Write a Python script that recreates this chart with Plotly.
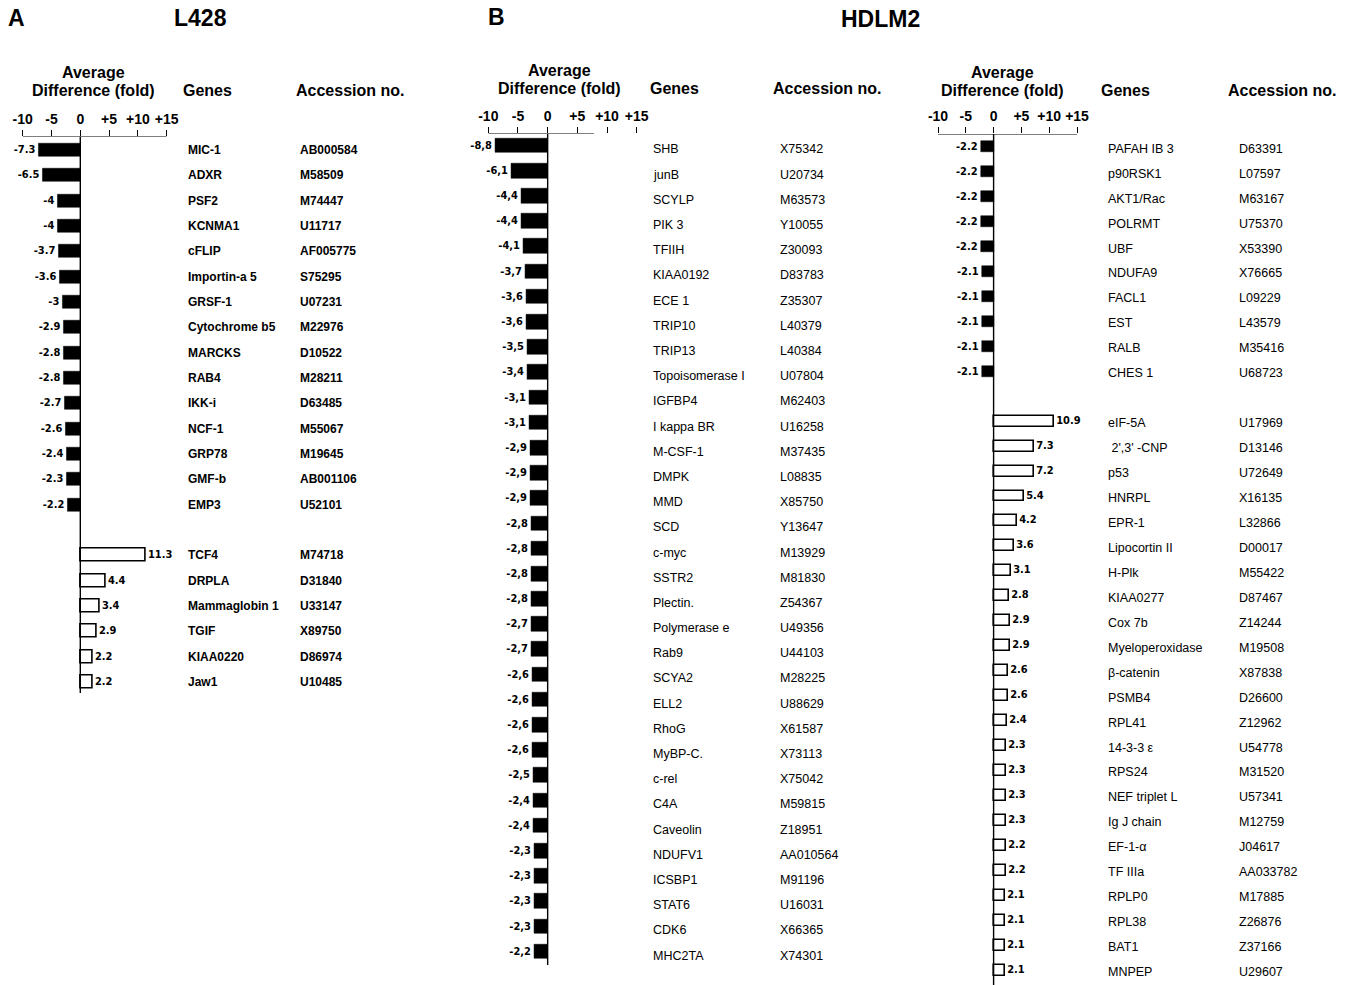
import plotly.graph_objects as go

W, H = 1346, 985

# ---------------- data ----------------
TICK_VALS = [-10, -5, 0, 5, 10, 15]
TICK_TEXT = ["-10", "-5", "0", "+5", "+10", "+15"]

# Panel A : L428
A_neg_genes = ["MIC-1", "ADXR", "PSF2", "KCNMA1", "cFLIP", "Importin-a 5", "GRSF-1",
               "Cytochrome b5", "MARCKS", "RAB4", "IKK-i", "NCF-1", "GRP78", "GMF-b", "EMP3"]
A_neg_acc = ["AB000584", "M58509", "M74447", "U11717", "AF005775", "S75295", "U07231",
             "M22976", "D10522", "M28211", "D63485", "M55067", "M19645", "AB001106", "U52101"]
A_neg_vals = [-7.3, -6.5, -4, -4, -3.7, -3.6, -3, -2.9, -2.8, -2.8, -2.7, -2.6, -2.4, -2.3, -2.2]
A_pos_genes = ["TCF4", "DRPLA", "Mammaglobin 1", "TGIF", "KIAA0220", "Jaw1"]
A_pos_acc = ["M74718", "D31840", "U33147", "X89750", "D86974", "U10485"]
A_pos_vals = [11.3, 4.4, 3.4, 2.9, 2.2, 2.2]

# Panel B : HDLM2 (down-regulated, first column)
B_neg_genes = ["SHB", "junB", "SCYLP", "PIK 3", "TFIIH", "KIAA0192", "ECE 1", "TRIP10", "TRIP13",
               "Topoisomerase I", "IGFBP4", "I kappa BR", "M-CSF-1", "DMPK", "MMD", "SCD", "c-myc",
               "SSTR2", "Plectin.", "Polymerase e", "Rab9", "SCYA2", "ELL2", "RhoG", "MyBP-C.",
               "c-rel", "C4A", "Caveolin", "NDUFV1", "ICSBP1", "STAT6", "CDK6", "MHC2TA"]
B_neg_acc = ["X75342", "U20734", "M63573", "Y10055", "Z30093", "D83783", "Z35307", "L40379", "L40384",
             "U07804", "M62403", "U16258", "M37435", "L08835", "X85750", "Y13647", "M13929",
             "M81830", "Z54367", "U49356", "U44103", "M28225", "U88629", "X61587", "X73113",
             "X75042", "M59815", "Z18951", "AA010564", "M91196", "U16031", "X66365", "X74301"]
B_neg_vals = [-8.8, -6.1, -4.4, -4.4, -4.1, -3.7, -3.6, -3.6, -3.5, -3.4, -3.1, -3.1, -2.9, -2.9,
              -2.9, -2.8, -2.8, -2.8, -2.8, -2.7, -2.7, -2.6, -2.6, -2.6, -2.6, -2.5, -2.4, -2.4,
              -2.3, -2.3, -2.3, -2.3, -2.2]
B_pos_genes = []
B_pos_acc = []
B_pos_vals = []

# Panel C : HDLM2 (second column)
C_neg_genes = ["PAFAH IB 3", "p90RSK1", "AKT1/Rac", "POLRMT", "UBF", "NDUFA9", "FACL1", "EST",
               "RALB", "CHES 1"]
C_neg_acc = ["D63391", "L07597", "M63167", "U75370", "X53390", "X76665", "L09229", "L43579",
             "M35416", "U68723"]
C_neg_vals = [-2.2, -2.2, -2.2, -2.2, -2.2, -2.1, -2.1, -2.1, -2.1, -2.1]
C_pos_genes = ["eIF-5A", " 2',3' -CNP", "p53", "HNRPL", "EPR-1", "Lipocortin II", "H-Plk",
               "KIAA0277", "Cox 7b", "Myeloperoxidase", "β-catenin", "PSMB4", "RPL41", "14-3-3 ε",
               "RPS24", "NEF triplet L", "Ig J chain", "EF-1-α", "TF IIIa", "RPLP0", "RPL38",
               "BAT1", "MNPEP"]
C_pos_acc = ["U17969", "D13146", "U72649", "X16135", "L32866", "D00017", "M55422", "D87467",
             "Z14244", "M19508", "X87838", "D26600", "Z12962", "U54778", "M31520", "U57341",
             "M12759", "J04617", "AA033782", "M17885", "Z26876", "Z37166", "U29607"]
C_pos_vals = [10.9, 7.3, 7.2, 5.4, 4.2, 3.6, 3.1, 2.8, 2.9, 2.9, 2.6, 2.6, 2.4, 2.3, 2.3, 2.3,
              2.3, 2.2, 2.2, 2.1, 2.1, 2.1, 2.1]

# ---------------- layout settings (pixels) ----------------
panels = [
    dict(neg=(A_neg_genes, A_neg_acc, A_neg_vals), pos=(A_pos_genes, A_pos_acc, A_pos_vals),
         xm10=22.7, xp15=166.7, line_px=136.5, p0=150.0, s=25.33, tshift=0,
         gene_x=186, acc_x=298, bar_w=0.52, zero_end_px=693, comma=False, bold=True,
         line_to=15, hdr=(93, 207, 350)),
    dict(neg=(B_neg_genes, B_neg_acc, B_neg_vals), pos=(B_pos_genes, B_pos_acc, B_pos_vals),
         xm10=488.3, xp15=636.7, line_px=133.5, p0=145.5, s=25.19, tshift=4,
         gene_x=651, acc_x=778, bar_w=0.58, zero_end_px=965, comma=True, bold=False,
         line_to=7.8, hdr=(559, 674, 827)),
    dict(neg=(C_neg_genes, C_neg_acc, C_neg_vals), pos=(C_pos_genes, C_pos_acc, C_pos_vals),
         xm10=938.0, xp15=1077.0, line_px=134.0, p0=146.7, s=24.95, tshift=2,
         gene_x=1106, acc_x=1237, bar_w=0.44, zero_end_px=985, comma=False, bold=False,
         line_to=15, hdr=(1002, 1125, 1282)),
]

FONT = "Liberation Sans, Arial, sans-serif"
NARROW = "Liberation Sans Narrow, Arial Narrow, DejaVu Sans Condensed, Liberation Sans, sans-serif"


def fmt(v, comma):
    s = "%g" % v
    return s.replace(".", ",") if comma else s


def py(px):
    return 1 - px / H


fig = go.Figure()
annotations = []
shapes = []
layout = {}

for i, p in enumerate(panels, start=1):
    xs = "x" if i == 1 else f"x{i}"
    ys = "y" if i == 1 else f"y{i}"
    xname = "xaxis" if i == 1 else f"xaxis{i}"
    yname = "yaxis" if i == 1 else f"yaxis{i}"

    ng, na, nv = p["neg"]
    pg, pa, pv = p["pos"]
    n_rows = list(range(len(nv)))
    p_rows = [len(nv) + 1 + k for k in range(len(pv))]

    fig.add_trace(go.Bar(
        x=nv, y=n_rows, orientation="h", xaxis=xs, yaxis=ys, width=p["bar_w"],
        marker=dict(color="black", line=dict(color="black", width=0.5)),
        text=[fmt(v, p["comma"]) for v in nv], textposition="outside",
        textfont=dict(family=NARROW, size=11, color="black", weight="bold"),
        cliponaxis=False, constraintext="none", showlegend=False, hoverinfo="skip"))
    if pv:
        fig.add_trace(go.Bar(
            x=pv, y=p_rows, orientation="h", xaxis=xs, yaxis=ys, width=p["bar_w"],
            marker=dict(color="white", line=dict(color="black", width=1.6)),
            text=[fmt(v, p["comma"]) for v in pv], textposition="outside",
            textfont=dict(family=NARROW, size=11, color="black", weight="bold"),
            cliponaxis=False, constraintext="none", showlegend=False, hoverinfo="skip"))

    r_top = (p["line_px"] - p["p0"]) / p["s"]
    r_bot = (H - p["p0"]) / p["s"]
    r_end = (p["zero_end_px"] - p["p0"]) / p["s"]

    layout[xname] = dict(
        domain=[p["xm10"] / W, p["xp15"] / W], range=[-10, 15], anchor=ys, side="top",
        tickmode="array", tickvals=TICK_VALS, ticktext=TICK_TEXT, ticks="outside",
        ticklen=6, tickwidth=1.2, tickcolor="black", showline=False, showgrid=False,
        zeroline=False, tickfont=dict(family=FONT, size=14, color="black", weight="bold"),
        fixedrange=True, automargin=False)
    layout[yname] = dict(
        domain=[0, py(p["line_px"])], range=[r_bot, r_top], visible=False, anchor=xs,
        showgrid=False, zeroline=False, fixedrange=True, automargin=False)

    # axis line and zero line
    shapes.append(dict(type="line", xref=xs, yref=ys, x0=-10, x1=p["line_to"], y0=r_top, y1=r_top,
                       line=dict(color="black", width=1.2)))
    shapes.append(dict(type="line", xref=xs, yref=ys, x0=0, x1=0, y0=r_top, y1=r_end,
                       line=dict(color="black", width=1.4)))

    tfont = dict(family=FONT, size=12 if p["bold"] else 12.5, color="black",
                 weight="bold" if p["bold"] else "normal")
    for g, a, r in list(zip(ng, na, n_rows)) + list(zip(pg, pa, p_rows)):
        annotations.append(dict(x=p["gene_x"] / W, xref="paper", y=r, yref=ys, text=g,
                                showarrow=False, xanchor="left", yanchor="middle",
                                yshift=-p["tshift"], font=tfont))
        annotations.append(dict(x=p["acc_x"] / W, xref="paper", y=r, yref=ys, text=a,
                                showarrow=False, xanchor="left", yanchor="middle",
                                yshift=-p["tshift"], font=tfont))

    hfont = dict(family=FONT, size=16, color="black", weight="bold")
    hx_avg, hx_gene, hx_acc = p["hdr"]
    hy = 72 if i != 2 else 70.5
    annotations += [
        dict(x=hx_avg / W, y=py(hy), xref="paper", yref="paper", text="Average",
             showarrow=False, xanchor="center", yanchor="middle", font=hfont),
        dict(x=hx_avg / W, y=py(hy + 18.5), xref="paper", yref="paper", text="Difference (fold)",
             showarrow=False, xanchor="center", yanchor="middle", font=hfont),
        dict(x=hx_gene / W, y=py(hy + 18.5), xref="paper", yref="paper", text="Genes",
             showarrow=False, xanchor="center", yanchor="middle", font=hfont),
        dict(x=hx_acc / W, y=py(hy + 18.5), xref="paper", yref="paper", text="Accession no.",
             showarrow=False, xanchor="center", yanchor="middle", font=hfont),
    ]

# panel titles
tfont_big = dict(family=FONT, size=23, color="black", weight="bold")
annotations += [
    dict(x=16.5 / W, y=py(18), xref="paper", yref="paper", text="A", showarrow=False,
         xanchor="center", yanchor="middle", font=tfont_big),
    dict(x=200.5 / W, y=py(18), xref="paper", yref="paper", text="L428", showarrow=False,
         xanchor="center", yanchor="middle", font=tfont_big),
    dict(x=496 / W, y=py(17), xref="paper", yref="paper", text="B", showarrow=False,
         xanchor="center", yanchor="middle", font=tfont_big),
    dict(x=880 / W, y=py(19), xref="paper", yref="paper", text="HDLM2", showarrow=False,
         xanchor="center", yanchor="middle", font=tfont_big),
]

fig.update_layout(
    width=W, height=H, margin=dict(l=0, r=0, t=0, b=0, pad=0, autoexpand=False),
    paper_bgcolor="white", plot_bgcolor="white", bargap=0,
    annotations=annotations, shapes=shapes, showlegend=False, **layout)

fig.write_html(
    "out.html", config={"displayModeBar": False},
    post_script="document.body.style.margin='0';document.body.style.overflow='hidden';")
